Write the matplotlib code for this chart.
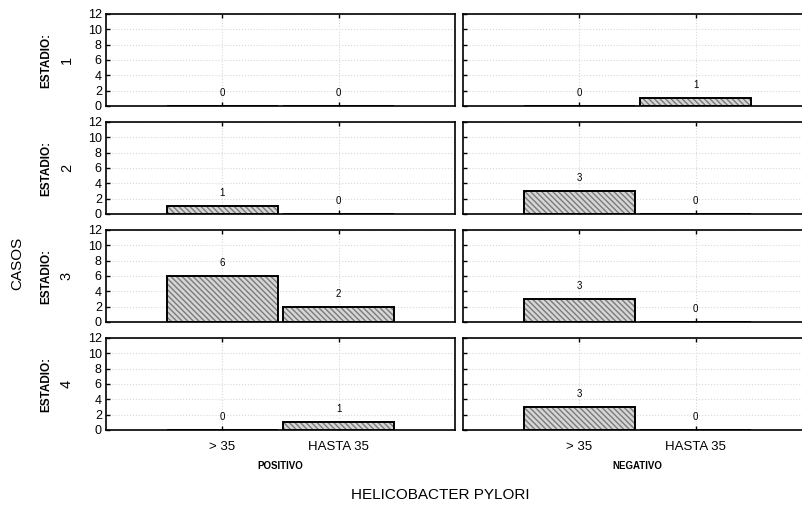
import numpy as np
import matplotlib.pyplot as plt

plt.rcParams['font.family'] = ['Liberation Sans', 'DejaVu Sans']

categorias = ['> 35', 'HASTA 35']
estadios = ['1', '2', '3', '4']
grupos = ['POSITIVO', 'NEGATIVO']

# casos por estadio: [> 35, HASTA 35]
positivo = [[0, 0], [1, 0], [6, 2], [0, 1]]
negativo = [[0, 1], [3, 0], [3, 0], [3, 0]]
datos = [positivo, negativo]

W, H = 803, 509
fig = plt.figure(figsize=(W / 100, H / 100), dpi=100)

col_x = [106, 463]
col_w = 349
extra = 30  # el panel derecho queda cortado por el borde de la imagen
fila_b = [106, 214, 322, 430]
fila_h = 92

x = np.arange(len(categorias))

for c in range(2):
    for f in range(4):
        ancho = col_w + (extra if c == 1 else 0)
        ax = fig.add_axes([col_x[c] / W, 1 - fila_b[f] / H, ancho / W, fila_h / H])
        vals = datos[c][f]
        # relleno rayado
        ax.bar(x, vals, width=0.95, color='#d6d6d6', edgecolor='#7a7a7a',
               hatch='\\\\\\\\\\\\', linewidth=0, zorder=2)
        # contorno
        ax.bar(x, vals, width=0.95, fill=False, edgecolor='black',
               linewidth=1.4, zorder=3)
        for xi, v in zip(x, vals):
            ax.text(xi, v + 1.7, str(v), ha='center', va='center',
                    fontsize=7, zorder=4)
        ax.set_xlim(-1, 2 + 3 * (ancho - col_w) / col_w)
        ax.set_ylim(0, 12)
        ax.set_yticks(range(0, 13, 2))
        ax.set_xticks(x)
        ax.grid(True, color='#d8d8d8', linestyle=':', linewidth=0.8, zorder=0)
        ax.tick_params(direction='in', length=3, width=1, top=True,
                       labelsize=9, pad=3)
        ax.tick_params(axis='x', pad=8, labelsize=9.5)
        for s in ax.spines.values():
            s.set_linewidth(1.2)
        if c == 1:
            ax.set_yticklabels([])
        else:
            ax.text(-0.17, 0.5, 'ESTADIO:', transform=ax.transAxes,
                    rotation=90, ha='center', va='center', fontsize=8.5,
                    fontweight='bold')
            ax.text(-0.112, 0.5, estadios[f], transform=ax.transAxes,
                    rotation=90, ha='center', va='center', fontsize=10.5)
        if f == 3:
            ax.set_xticklabels(categorias)
        else:
            ax.set_xticklabels([])

for c in range(2):
    fig.text((col_x[c] + col_w / 2) / W, 1 - 466 / H, grupos[c], ha='center',
             va='center', fontsize=7, fontweight='bold')

fig.text(17 / W, 1 - 263 / H, 'CASOS', rotation=90, ha='center', va='center',
         fontsize=11)
fig.text(440 / W, 1 - 495 / H, 'HELICOBACTER PYLORI', ha='center', va='center',
         fontsize=11)

fig.savefig('out.png', dpi=100)
